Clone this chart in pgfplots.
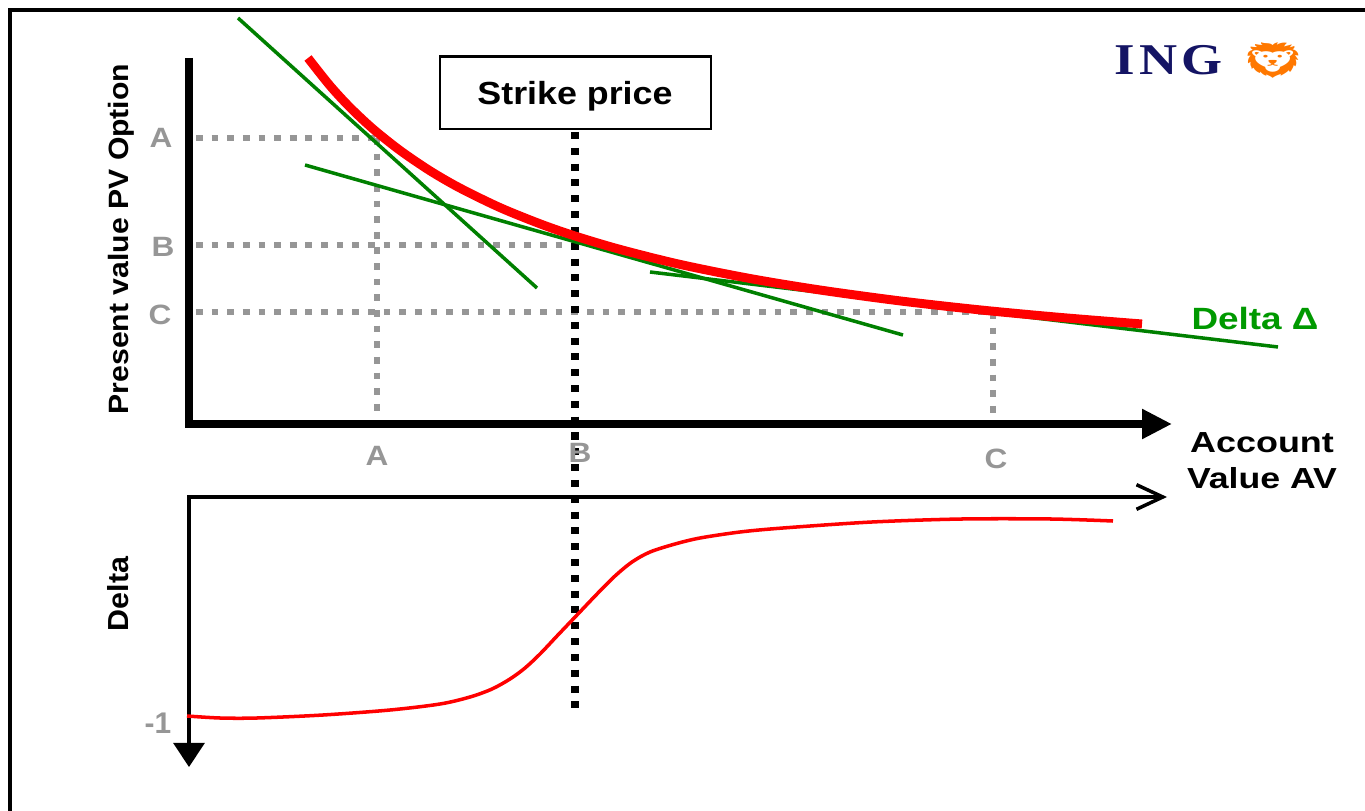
\documentclass[border=0pt]{standalone}
\usepackage{pgfplots}
\pgfplotsset{compat=1.18}
\usepackage{fontspec}
\setmainfont{Liberation Sans}
\newfontfamily\ingfont{Liberation Serif}
\newfontfamily\emojifont{Noto Emoji}
\usetikzlibrary{arrows.meta}
\definecolor{pvred}{RGB}{255,0,0}
\definecolor{tgreen}{RGB}{0,128,0}
\definecolor{dgreen}{RGB}{0,153,0}
\definecolor{lgray}{RGB}{150,150,150}
\definecolor{ingblue}{RGB}{20,20,100}
\definecolor{ingorange}{RGB}{255,120,0}
\begin{document}
\begin{tikzpicture}
\begin{axis}[
  width=27.3cm, height=16.22cm, scale only axis,
  xmin=0, xmax=1365, ymin=0, ymax=811, y dir=reverse,
  hide axis, clip=false]
% frame
\addplot[black, line width=2pt] coordinates {(10,811) (10,10) (1365,10)};
% gray guide lines
\addplot[lgray, line width=3.8pt, dash pattern=on 3.8pt off 5.1pt] coordinates {(196,138) (377,138)};
\addplot[lgray, line width=3.8pt, dash pattern=on 3.8pt off 5.1pt] coordinates {(196,245) (575,245)};
\addplot[lgray, line width=3.8pt, dash pattern=on 3.8pt off 5.1pt] coordinates {(196,312) (993,312)};
\addplot[lgray, line width=3.8pt, dash pattern=on 3.8pt off 5.1pt] coordinates {(377,138) (377,416)};
\addplot[lgray, line width=3.8pt, dash pattern=on 3.8pt off 5.1pt] coordinates {(993,312) (993,416)};
% strike line
\addplot[black, line width=4pt, dash pattern=on 4pt off 5pt] coordinates {(575,132) (575,716)};
% top axes
\addplot[black, line width=5.1pt, line join=miter, -{Triangle[length=17pt,width=16pt]}] coordinates {(189,58) (189,424) (1172,424)};
% bottom axes
\addplot[black, line width=2pt, line join=miter, {Straight Barb[length=15pt,width=14pt]}-{Triangle[length=13.7pt,width=17.6pt]}] coordinates {(1167,497) (189,497) (189,767)};
% tangents
\addplot[tgreen, line width=2pt] coordinates {(238,18) (537,288)};
\addplot[tgreen, line width=2pt] coordinates {(305,165) (903,335)};
\addplot[tgreen, line width=2pt] coordinates {(650,272) (1278,347)};
% PV curve
\addplot[pvred, line width=5.1pt, smooth] coordinates {
(308,58.0) (330,85.7) (350,107.4) (373,128.9) (400,150.4) (430,170.8) (460,188.1)
(500,207.6) (540,223.8) (575,236.0) (620,249.4) (680,264.4) (750,278.5)
(820,290.0) (900,300.9) (980,309.9) (1060,317.4) (1142,324.0)};
% delta curve
\addplot[pvred, line width=2pt, smooth] coordinates {
(187,716) (220,718) (257,718) (323,715) (390,710) (440,704) (470,697)
(492,689) (510,679) (525,668) (540,654) (557,636) (577,615) (597,594)
(615,576) (632,562) (650,552) (675,544) (700,538) (740,532) (783,528)
(872,522) (962,519) (1051,519) (1113,521)};
% strike box
\draw[black, line width=1.7pt, fill=white] (axis cs:440,57) rectangle (axis cs:711,129);
\node[anchor=base] at (axis cs:575,105) {\fontsize{18.2}{20}\selectfont\bfseries\scalebox{1.12}[1]{Strike price}};
% tick letters
\node[anchor=base, text=lgray] at (axis cs:161,148) {\fontsize{15.9}{18}\selectfont\bfseries\scalebox{1.13}[1]{A}};
\node[anchor=base, text=lgray] at (axis cs:163,257) {\fontsize{15.9}{18}\selectfont\bfseries\scalebox{1.13}[1]{B}};
\node[anchor=base, text=lgray] at (axis cs:160,325) {\fontsize{15.9}{18}\selectfont\bfseries\scalebox{1.13}[1]{C}};
\node[anchor=base, text=lgray] at (axis cs:377,465) {\fontsize{15.9}{18}\selectfont\bfseries\scalebox{1.13}[1]{A}};
\node[anchor=base, text=lgray] at (axis cs:580,462) {\fontsize{15.9}{18}\selectfont\bfseries\scalebox{1.13}[1]{B}};
\node[anchor=base, text=lgray] at (axis cs:996,468) {\fontsize{15.9}{18}\selectfont\bfseries\scalebox{1.13}[1]{C}};
\node[anchor=base, text=lgray] at (axis cs:158,733) {\fontsize{17}{18}\selectfont\bfseries -1};
% axis titles
\node[anchor=base, rotate=90] at (axis cs:128,239) {\fontsize{15.9}{18}\selectfont\bfseries\scalebox{1.08}[1]{Present value PV Option}};
\node[anchor=base, rotate=90] at (axis cs:128,594) {\fontsize{16.5}{18}\selectfont\bfseries\scalebox{1.05}[1]{Delta}};
\node[anchor=base] at (axis cs:1262,452) {\fontsize{16.5}{18}\selectfont\bfseries\scalebox{1.24}[1]{Account}};
\node[anchor=base] at (axis cs:1262,488) {\fontsize{16.5}{18}\selectfont\bfseries\scalebox{1.23}[1]{Value AV}};
\node[anchor=base, text=dgreen] at (axis cs:1255,330) {\fontsize{17.5}{19}\selectfont\bfseries\scalebox{1.2}[1]{Delta Δ}};
% logo
\node[anchor=base, text=ingblue] at (axis cs:1169,75) {\fontsize{25}{27}\selectfont\ingfont\bfseries\scalebox{1.2}[1]{I\kern2pt N\kern2pt G}};
\node[text=ingorange] at (axis cs:1273,60) {\fontsize{20}{22}\selectfont\emojifont\scalebox{1.6}[1]{🦁}};
\end{axis}
\pgfresetboundingbox
\useasboundingbox (current axis.south west) rectangle (current axis.north east);
\end{tikzpicture}
\end{document}
